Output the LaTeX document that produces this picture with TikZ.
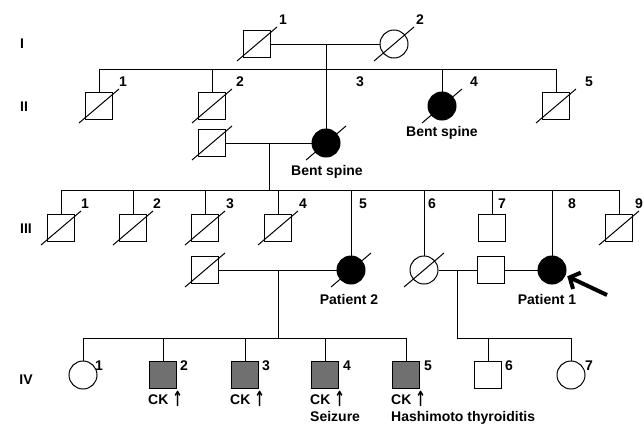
\documentclass[tikz,border=0pt]{standalone}
\usepackage{fontspec}
\setmainfont{Liberation Sans}
\newfontfamily\arrfont{DejaVu Sans}
\usetikzlibrary{arrows.meta}
\definecolor{affgray}{HTML}{707070}
\newcommand\dead[1]{\draw[line width=1pt] (#1.center) ++(-20,17) -- ++(40,-34);}
\newcommand\uparr{\raisebox{-2pt}{\scalebox{0.6}[1]{\fontsize{21}{21}\selectfont\arrfont ↑}}}
\begin{document}
\begin{tikzpicture}[x=1pt,y=-1pt,
  ln/.style={line width=1pt},
  male/.style={draw,rectangle,minimum size=27pt,inner sep=0pt,line width=1pt,fill=white},
  female/.style={draw,circle,minimum size=28pt,inner sep=0pt,line width=1pt,fill=white},
  aff/.style={fill=black},
  grayaff/.style={fill=affgray},
  txt/.style={font=\fontsize{14}{16}\selectfont\bfseries,inner sep=0pt},
]
\useasboundingbox (0,0) rectangle (644,423);

% generation labels
\node[txt] (gI) at (22,44) {I};
\node[txt] (gII) at (24,107) {II};
\node[txt] (gIII) at (26,229) {III};
\node[txt] (gIV) at (26,380) {IV};

% Generation I
\node[male] (i1) at (257,44) {};
\node[female] (i2) at (394,44) {};
\node[txt] (n-i1) at (283,20) {1};
\node[txt] (n-i2) at (420,20) {2};

% Generation II
\node[male] (ii1) at (99,106) {};
\node[male] (ii2) at (212,106) {};
\node[female,aff] (ii3) at (326,143) {};
\node[female,aff] (ii4) at (442,106) {};
\node[male] (ii5) at (556,106) {};
\node[male] (sp2) at (212,143) {};
\node[txt] (n-ii1) at (123,82) {1};
\node[txt] (n-ii2) at (240,82) {2};
\node[txt] (n-ii3) at (360,82) {3};
\node[txt] (n-ii4) at (474,82) {4};
\node[txt] (n-ii5) at (589,82) {5};
\node[txt] (bs4) at (442,133) {Bent spine};
\node[txt] (bs3) at (327,172) {Bent spine};

% Generation III
\node[male] (iii1) at (61,228) {};
\node[male] (iii2) at (133,228) {};
\node[male] (iii3) at (205,228) {};
\node[male] (iii4) at (278,228) {};
\node[female,aff] (iii5) at (351,270) {};
\node[female] (iii6) at (424,270) {};
\node[male] (iii7) at (492,228) {};
\node[female,aff] (iii8) at (552,270) {};
\node[male] (iii9) at (619,228) {};
\node[male] (sp5) at (205,270) {};
\node[male] (sp6) at (491,270) {};
\foreach \t/\x in {1/85,2/157,3/230,4/303,5/363,6/432,7/502,8/572,9/639}
  {\node[txt] (n-iii\t) at (\x,204) {\t};}
\node[txt] (p2) at (349,299) {Patient 2};
\node[txt] (p1) at (547,299) {Patient 1};

% Generation IV
\node[female] (iv1) at (83,375) {};
\node[male,grayaff] (iv2) at (163,375) {};
\node[male,grayaff] (iv3) at (245,375) {};
\node[male,grayaff] (iv4) at (325,375) {};
\node[male,grayaff] (iv5) at (406,375) {};
\node[male] (iv6) at (488,375) {};
\node[female] (iv7) at (571,375) {};
\foreach \t/\x in {1/99,2/184,3/266,4/347,5/428,6/509,7/589}
  {\node[txt] (n-iv\t) at (\x,366) {\t};}
\node[txt,anchor=base west] (ck2) at (148,404) {CK \uparr};
\node[txt,anchor=base west] (ck3) at (230,404) {CK \uparr};
\node[txt,anchor=base west] (ck4) at (310,404) {CK \uparr};
\node[txt,anchor=base west] (ck5) at (391,404) {CK \uparr};
\node[txt,anchor=base west] (sz) at (310,421) {Seizure};
\node[txt,anchor=base west] (ht) at (391,421) {Hashimoto thyroiditis};

% coordinates for lines of descent
\coordinate (m1) at (326,44);
\coordinate (s1) at (326,69);
\coordinate (m2) at (269,143);
\coordinate (s2) at (269,190);
\coordinate (m5) at (278,270);
\coordinate (s5) at (278,338);
\coordinate (m6) at (457,270);
\coordinate (s6) at (457,338);
\coordinate (pa) at (607,295);

% Gen I
\draw[ln] (i1) -- (i2);
\draw[ln] (m1) -- (s1);
\draw[ln] (ii1.north) -- (ii1.north |- s1) -- (ii5.north |- s1) -- (ii5.north);
\draw[ln] (ii2.north) -- (ii2.north |- s1);
\draw[ln] (s1) -- (ii3.north);
\draw[ln] (ii4.north) -- (ii4.north |- s1);

% II-3 couple
\draw[ln] (sp2) -- (ii3);
\draw[ln] (m2) -- (s2);
\draw[ln] (iii1.north) -- (iii1.north |- s2) -- (iii9.north |- s2) -- (iii9.north);
\foreach \n in {iii2,iii3,iii4,iii5,iii6,iii7,iii8}
  {\draw[ln] (\n.north) -- (\n.north |- s2);}

% III couples
\draw[ln] (sp5) -- (iii5);
\draw[ln] (m5) -- (s5);
\draw[ln] (iv1.north) -- (iv1.north |- s5) -- (iv5.north |- s5) -- (iv5.north);
\foreach \n in {iv2,iv3,iv4}
  {\draw[ln] (\n.north) -- (\n.north |- s5);}
\draw[ln] (iii6) -- (sp6);
\draw[ln] (sp6) -- (iii8);
\draw[ln] (m6) -- (s6) -- (iv7.north |- s6) -- (iv7.north);
\draw[ln] (iv6.north) -- (iv6.north |- s6);

% deceased marks
\foreach \n in {i1,i2,ii1,ii2,ii3,ii4,ii5,sp2,iii1,iii2,iii3,iii4,iii5,iii6,iii9,sp5}
  {\dead{\n}}

% proband arrow
\draw[line width=4pt,-{Straight Barb[length=8pt,width=18pt,line width=4pt]},shorten >=2pt] (pa) -- (iii8.-22);
\end{tikzpicture}
\end{document}
